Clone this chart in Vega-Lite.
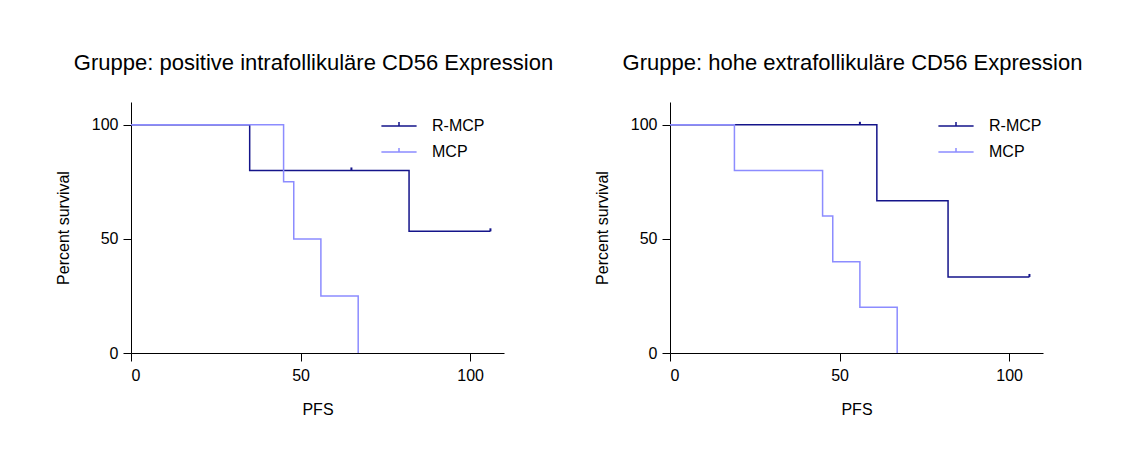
{
  "$schema": "https://vega.github.io/schema/vega-lite/v6.json",
  "padding": {"left": 55, "top": 52, "right": 0, "bottom": 0},
  "background": "white",
  "bounds": "flush",
  "spacing": 166,
  "datasets": {
    "km": [
      {"panel": "A", "group": "R-MCP", "t": 0, "s": 100, "censor": false},
      {"panel": "A", "group": "R-MCP", "t": 35, "s": 80, "censor": false},
      {"panel": "A", "group": "R-MCP", "t": 65, "s": 80, "censor": true},
      {"panel": "A", "group": "R-MCP", "t": 82, "s": 53.33, "censor": false},
      {"panel": "A", "group": "R-MCP", "t": 106, "s": 53.33, "censor": true},
      {"panel": "A", "group": "MCP", "t": 0, "s": 100, "censor": false},
      {"panel": "A", "group": "MCP", "t": 45, "s": 75, "censor": false},
      {"panel": "A", "group": "MCP", "t": 48, "s": 50, "censor": false},
      {"panel": "A", "group": "MCP", "t": 56, "s": 25, "censor": false},
      {"panel": "A", "group": "MCP", "t": 67, "s": 0, "censor": false},
      {"panel": "B", "group": "R-MCP", "t": 0, "s": 100, "censor": false},
      {"panel": "B", "group": "R-MCP", "t": 56, "s": 100, "censor": true},
      {"panel": "B", "group": "R-MCP", "t": 61, "s": 66.67, "censor": false},
      {"panel": "B", "group": "R-MCP", "t": 82, "s": 33.33, "censor": false},
      {"panel": "B", "group": "R-MCP", "t": 106, "s": 33.33, "censor": true},
      {"panel": "B", "group": "MCP", "t": 0, "s": 100, "censor": false},
      {"panel": "B", "group": "MCP", "t": 19, "s": 80, "censor": false},
      {"panel": "B", "group": "MCP", "t": 45, "s": 60, "censor": false},
      {"panel": "B", "group": "MCP", "t": 48, "s": 40, "censor": false},
      {"panel": "B", "group": "MCP", "t": 56, "s": 20, "censor": false},
      {"panel": "B", "group": "MCP", "t": 67, "s": 0, "censor": false}
    ]
  },
  "hconcat": [
    {
      "width": 373,
      "height": 251,
      "title": "Gruppe: positive intrafollikuläre CD56 Expression",
      "data": {"name": "km"},
      "transform": [{"filter": "datum.panel === 'A'"}],
      "layer": [
        {
          "mark": {"type": "line", "interpolate": "step-after", "strokeWidth": 1.5},
          "encoding": {
            "x": {"field": "t", "type": "quantitative", "title": "PFS", "scale": {"domain": [0, 110], "nice": false}, "axis": {"values": [0, 50, 100]}},
            "y": {"field": "s", "type": "quantitative", "title": "Percent survival", "scale": {"domain": [0, 110], "nice": false}, "axis": {"values": [0, 50, 100]}},
            "color": {"field": "group", "type": "nominal", "title": null, "scale": {"domain": ["R-MCP", "MCP"], "range": ["#14148a", "#8c8cff"]}, "legend": {"orient": "none", "legendX": 259, "legendY": 15}},
            "order": {"field": "t"}
          }
        },
        {
          "transform": [{"filter": "datum.censor"}],
          "mark": {"type": "point", "shape": "M0,0V-1", "size": 36, "strokeWidth": 2, "filled": false, "opacity": 1},
          "encoding": {
            "x": {"field": "t", "type": "quantitative"},
            "y": {"field": "s", "type": "quantitative"},
            "color": {"field": "group", "type": "nominal"}
          }
        }
      ]
    },
    {
      "width": 373,
      "height": 251,
      "title": "Gruppe: hohe extrafollikuläre CD56 Expression",
      "data": {"name": "km"},
      "transform": [{"filter": "datum.panel === 'B'"}],
      "layer": [
        {
          "mark": {"type": "line", "interpolate": "step-after", "strokeWidth": 1.5},
          "encoding": {
            "x": {"field": "t", "type": "quantitative", "title": "PFS", "scale": {"domain": [0, 110], "nice": false}, "axis": {"values": [0, 50, 100]}},
            "y": {"field": "s", "type": "quantitative", "title": "Percent survival", "scale": {"domain": [0, 110], "nice": false}, "axis": {"values": [0, 50, 100]}},
            "color": {"field": "group", "type": "nominal", "title": null, "scale": {"domain": ["R-MCP", "MCP"], "range": ["#14148a", "#8c8cff"]}, "legend": {"orient": "none", "legendX": 277, "legendY": 15}},
            "order": {"field": "t"}
          }
        },
        {
          "transform": [{"filter": "datum.censor"}],
          "mark": {"type": "point", "shape": "M0,0V-1", "size": 36, "strokeWidth": 2, "filled": false, "opacity": 1},
          "encoding": {
            "x": {"field": "t", "type": "quantitative"},
            "y": {"field": "s", "type": "quantitative"},
            "color": {"field": "group", "type": "nominal"}
          }
        }
      ]
    }
  ],
  "resolve": {"legend": {"color": "independent"}},
  "config": {
    "font": "Liberation Sans",
    "view": {"stroke": null},
    "title": {"fontSize": 22, "fontWeight": "normal", "color": "black", "anchor": "middle", "offset": 27, "dx": -4},
    "axis": {
      "grid": false,
      "domainColor": "black",
      "domainWidth": 1,
      "tickColor": "black",
      "tickWidth": 1,
      "tickSize": 8,
      "labelColor": "black",
      "labelFontSize": 16,
      "titleColor": "black",
      "titleFontSize": 16,
      "titleFontWeight": "normal"
    },
    "axisY": {"titlePadding": 20, "labelPadding": 5},
    "axisX": {"titlePadding": 18, "labelPadding": 6},
    "legend": {
      "symbolType": "M-2.2,0H2.2M0,0V-0.5",
      "symbolSize": 256,
      "symbolStrokeWidth": 1.5,
      "labelFontSize": 16,
      "labelColor": "black",
      "labelOffset": 24,
      "rowPadding": 9
    }
  }
}
